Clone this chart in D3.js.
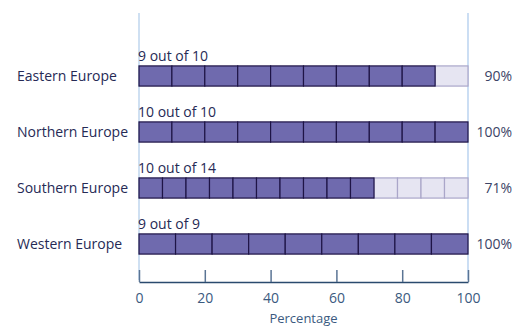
<!DOCTYPE html>
<html><head><meta charset="utf-8">
<script src="https://cdn.jsdelivr.net/npm/d3@7"></script>
<style>body{margin:0;background:#fff}svg{display:block}text{font-family:"Open Sans",sans-serif}</style>
</head><body><svg id="c" width="527" height="326"></svg>
<script>
const categories = ["Eastern Europe","Northern Europe","Southern Europe","Western Europe"];
const achieved = [9,10,10,9];
const totals = [10,10,14,9];
const percentLabels = ["90%","100%","71%","100%"];
const xTicks = [0,20,40,60,80,100];

const svg = d3.select("#c");
const x = d3.scaleLinear().domain([0,100]).range([139,468]);
const y = d3.scaleBand().domain(categories).range([48,272]).paddingInner(0.64).paddingOuter(0.32);

// vertical reference lines
svg.append("line").attr("x1",x(0)).attr("x2",x(0)).attr("y1",13).attr("y2",280).attr("stroke","#cfe0f2").attr("stroke-width",2);
svg.append("line").attr("x1",x(100)).attr("x2",x(100)).attr("y1",13).attr("y2",280).attr("stroke","#a9c8ec").attr("stroke-width",1.2);

categories.forEach((c,i)=>{
  const n = totals[i];
  const cells = d3.range(n).map(k=>({k, filled:k<achieved[i]}));
  const g = svg.append("g");
  g.selectAll("rect").data(cells).join("rect")
    .attr("x",d=>x(d.k*100/n))
    .attr("width",d=>x((d.k+1)*100/n)-x(d.k*100/n))
    .attr("y",y(c)).attr("height",y.bandwidth())
    .attr("fill",d=>d.filled?"#6f6aae":"#e6e5f2")
    .attr("stroke",d=>d.filled?"#1e1446":"#aaa6c9")
    .attr("stroke-width",1.2);
  // redraw filled on top so dark borders win
  g.selectAll("rect").filter(d=>d.filled).raise();
  svg.append("text").attr("x",17).attr("y",y(c)+y.bandwidth()/2+5)
    .attr("font-size",14).attr("fill","#262a55").text(c);
  svg.append("text").attr("x",138).attr("y",y(c)-5)
    .attr("font-size",14).attr("fill","#262a55").text(achieved[i]+" out of "+n);
  svg.append("text").attr("x",512).attr("y",y(c)+y.bandwidth()/2+5).attr("text-anchor","end")
    .attr("font-size",14).attr("fill","#3c4466").text(percentLabels[i]);
});

const ax = svg.append("g").attr("transform","translate(0,282)")
  .call(d3.axisBottom(x).tickValues(xTicks).tickSize(-12).tickPadding(-0).tickSizeOuter(0));
ax.select(".domain").attr("stroke","#2a4a6e").attr("stroke-width",1.5);
ax.selectAll(".tick line").attr("stroke","#5a7494").attr("stroke-width",1.5);
ax.selectAll(".tick text").attr("font-size",14).attr("fill","#3b5a80").attr("font-family","'Open Sans',sans-serif").attr("dy",null).attr("y",21);
svg.append("text").attr("x",x(50)).attr("y",323).attr("text-anchor","middle")
  .attr("font-size",13).attr("fill","#3b5a80").text("Percentage");
</script></body></html>
